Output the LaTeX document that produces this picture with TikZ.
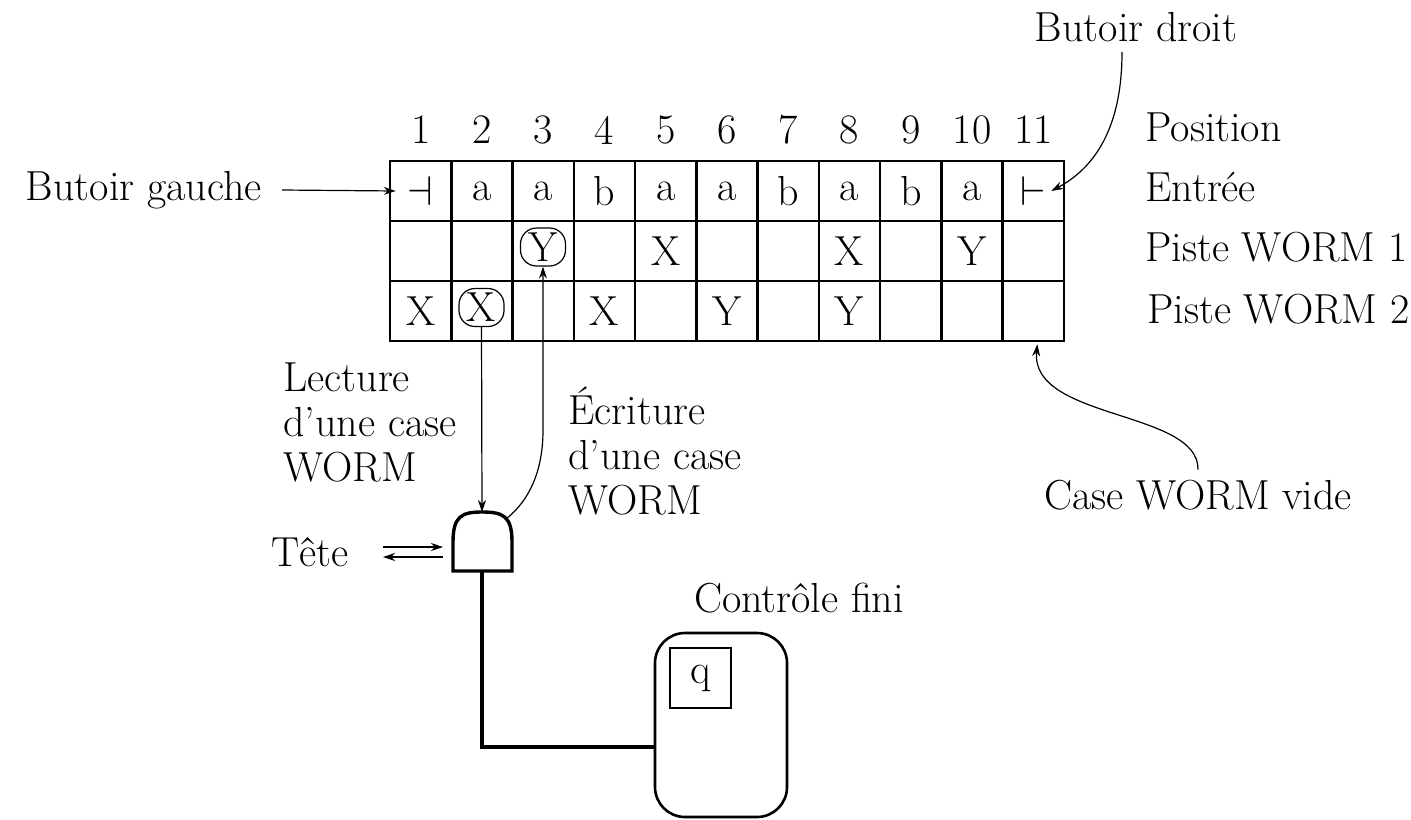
\documentclass[tikz,border=0pt]{standalone}
\usetikzlibrary{arrows.meta}
\begin{document}
\begin{tikzpicture}[x=0.5pt,y=-0.5pt,font=\fontsize{21}{22.5}\selectfont,
  cell/.style={draw,line width=1.3pt,minimum width=30.64pt,minimum height=30pt,inner sep=0pt},
  lbl/.style={anchor=mid west,inner sep=0pt},
  circbox/.style={draw,rounded corners=8pt,line width=0.6pt,minimum width=22.5pt,minimum height=19pt,inner sep=0pt},
  arr/.style={-{Stealth[length=6pt,width=4pt]},line width=0.6pt},
  thick/.style={line width=1.7pt}]
\useasboundingbox (0,0) rectangle (1411,819);
% column numbers
\foreach \i in {1,...,11}{
  \node[inner sep=0pt] (n\i) at ({390+61.27*(\i-0.5)},130) {\i};
}
% row 1 : input
\foreach \i/\t in {1/$\dashv$,2/a,3/a,4/b,5/a,6/a,7/b,8/a,9/b,10/a,11/$\vdash$}{
  \node[cell] (e\i) at ({390+61.27*(\i-0.5)},191) {\t};
}
% row 2 : track 1
\foreach \i/\t in {1/,2/,3/,4/,5/X,6/,7/,8/X,9/,10/Y,11/}{
  \node[cell] (w\i) at ({390+61.27*(\i-0.5)},251) {\t};
}
% row 3 : track 2
\foreach \i/\t in {1/X,2/,3/,4/X,5/,6/Y,7/,8/Y,9/,10/,11/}{
  \node[cell] (f\i) at ({390+61.27*(\i-0.5)},311) {\t};
}
\node[circbox] (cy) at (543,247) {Y};
\node[circbox] (cx) at (481.5,307.5) {X};
% row labels
\node[lbl] (lpos) at (1145,137) {Position};
\node[lbl] (lent) at (1145,197) {Entrée};
\node[lbl] (lp1) at (1145,257) {Piste WORM 1};
\node[lbl] (lp2) at (1147,319) {Piste WORM 2};
% left stop
\node[anchor=mid east,inner sep=0pt] (bg) at (262,196) {Butoir gauche};
\draw[arr] ([xshift=10pt,yshift=3pt]bg.mid east) -- ([xshift=3.5pt]e1.west);
% right stop
\node[inner sep=0pt] (bd) at (1136,27) {Butoir droit};
\draw[arr] ([xshift=-7pt,yshift=-5pt]bd.south) .. controls (1122,120) and (1100,165) .. ([xshift=-7pt]e11.east);
% empty cell
\node[inner sep=0pt] (cv) at (1198,495) {Case WORM vide};
\draw[arr] ([yshift=5pt]cv.north) .. controls (1199,410) and (1030,420) .. ([xshift=2pt,yshift=-1pt]f11.south);
% head
\coordinate (ht) at (482,512);
\coordinate (hb) at (482,571);
\coordinate (hr) at (506,519);
\draw[thick] (453,571) -- (453,542) .. controls (453,516) and (462,512) .. (ht)
  .. controls (503,512) and (512,516) .. (512,542) -- (512,571) -- cycle;
\draw[arr] (cx.south) -- (ht);
\draw[arr] (hr) .. controls (530,500) and (543,470) .. (543,430) -- (cy.south);
% labels of head arrows
\node[anchor=north west,align=left,inner sep=0pt] (lect) at (283,362) {Lecture\\d'une case\\WORM};
\node[anchor=north west,align=left,inner sep=0pt] (ecr) at (568,387) {Écriture\\d'une case\\WORM};
% Tete
\node[inner sep=0pt] (tete) at (310,552) {Tête};
\coordinate (ta) at (383,547);
\coordinate (tb) at (443,547);
\coordinate (tc) at (443,557);
\coordinate (td) at (383,557);
\draw[arr] (ta) -- (tb);
\draw[arr] (tc) -- (td);
% finite control
\node[inner sep=0pt] (cf) at (799,598) {Contrôle fini};
\node[draw,rounded corners=15pt,line width=1.3pt,minimum width=66pt,minimum height=92pt,inner sep=0pt] (ctrl) at (721,725) {};
\node[draw,line width=1pt,minimum width=30.5pt,minimum height=30pt,inner sep=0pt] (q) at (700.5,678) {q};
\draw[thick] (hb) |- ([yshift=-11pt]ctrl.west);
\end{tikzpicture}
\end{document}
